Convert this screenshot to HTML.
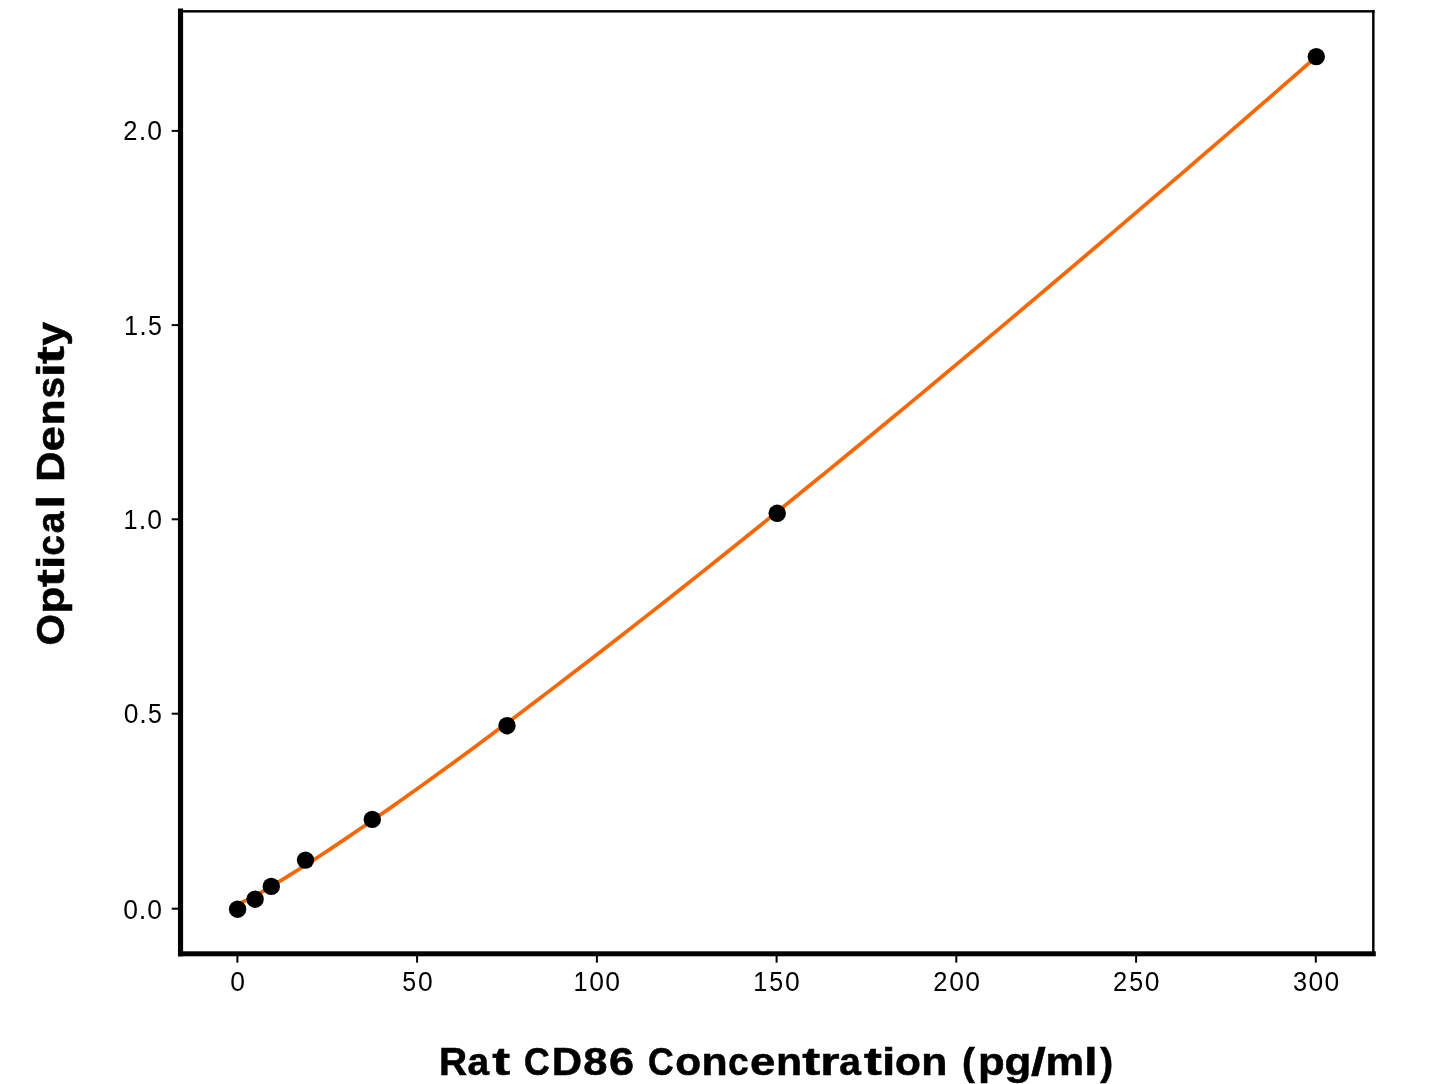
<!DOCTYPE html><html><head><meta charset="utf-8"><title>Rat CD86 standard curve</title><style>html,body{margin:0;padding:0;background:#fff;width:1445px;height:1084px;overflow:hidden}svg{display:block;will-change:transform}text{font-family:"Liberation Sans",sans-serif;fill:#000}</style></head><body>
<svg width="1445" height="1084" viewBox="0 0 1445 1084">
<rect width="1445" height="1084" fill="#fff"/>
<polyline points="237.60,904.29 246.15,900.38 254.69,895.85 263.24,891.03 271.79,886.03 280.34,880.89 288.88,875.62 297.43,870.26 305.98,864.82 314.53,859.31 323.07,853.72 331.62,848.07 340.17,842.37 348.72,836.61 357.26,830.79 365.81,824.93 374.36,819.03 382.91,813.08 391.45,807.10 400.00,801.07 418.70,787.77 437.40,774.31 456.10,760.71 474.80,746.97 493.50,733.11 512.20,719.14 530.90,705.06 549.60,690.88 568.30,676.60 587.00,662.24 605.70,647.78 624.40,633.25 643.10,618.64 661.80,603.95 680.50,589.19 699.20,574.36 717.90,559.47 736.60,544.51 755.30,529.49 774.00,514.41 792.70,499.27 811.40,484.08 830.10,468.83 848.80,453.53 867.50,438.18 886.20,422.78 904.90,407.33 923.60,391.82 942.30,376.27 961.00,360.67 979.70,345.02 998.40,329.34 1017.10,313.61 1035.80,297.84 1054.50,282.03 1073.20,266.18 1091.90,250.30 1110.60,234.37 1129.30,218.41 1148.00,202.41 1166.70,186.38 1185.40,170.31 1204.10,154.20 1222.80,138.06 1241.50,121.89 1260.20,105.69 1278.90,89.45 1297.60,73.18 1316.30,56.60" fill="none" stroke="#f86703" stroke-width="3.75" stroke-linejoin="round" stroke-linecap="butt"/>
<circle cx="237.6" cy="909.2" r="8.7" fill="#000"/>
<circle cx="255.1" cy="899.2" r="8.7" fill="#000"/>
<circle cx="271.3" cy="886.4" r="8.7" fill="#000"/>
<circle cx="305.5" cy="860.1" r="8.7" fill="#000"/>
<circle cx="372.3" cy="819.4" r="8.7" fill="#000"/>
<circle cx="507.0" cy="725.7" r="8.7" fill="#000"/>
<circle cx="777.2" cy="513.3" r="8.7" fill="#000"/>
<circle cx="1316.3" cy="56.6" r="8.7" fill="#000"/>
<rect x="177.95" y="8.5" width="5.15" height="947.8" fill="#000"/>
<rect x="178" y="951.3" width="1197.8" height="5" fill="#000"/>
<rect x="179.5" y="10.1" width="1195.1" height="2.45" fill="#000"/>
<rect x="1372.1" y="10.1" width="2.45" height="944.5" fill="#000"/>
<rect x="236.4" y="953.8" width="2" height="8.9" fill="#000"/>
<rect x="416.1" y="953.8" width="2" height="8.9" fill="#000"/>
<rect x="595.9" y="953.8" width="2" height="8.9" fill="#000"/>
<rect x="775.6" y="953.8" width="2" height="8.9" fill="#000"/>
<rect x="955.3" y="953.8" width="2" height="8.9" fill="#000"/>
<rect x="1135.1" y="953.8" width="2" height="8.9" fill="#000"/>
<rect x="1314.8" y="953.8" width="2" height="8.9" fill="#000"/>
<rect x="171.7" y="907.7" width="8.8" height="2" fill="#000"/>
<rect x="171.7" y="712.7" width="8.8" height="2" fill="#000"/>
<rect x="171.7" y="518.3" width="8.8" height="2" fill="#000"/>
<rect x="171.7" y="324.1" width="8.8" height="2" fill="#000"/>
<rect x="171.7" y="129.9" width="8.8" height="2" fill="#000"/>
<text transform="translate(229.73,991.00)" y="0" font-size="26.8"><tspan x="0.62" textLength="14.71" lengthAdjust="spacingAndGlyphs">0</tspan></text>
<text transform="translate(401.34,991.00)" y="0" font-size="26.8"><tspan x="0.94" textLength="13.88" lengthAdjust="spacingAndGlyphs">5</tspan><tspan x="16.58" textLength="14.71" lengthAdjust="spacingAndGlyphs">0</tspan></text>
<text transform="translate(572.68,991.00)" y="0" font-size="26.8"><tspan x="0.83" textLength="14.05" lengthAdjust="spacingAndGlyphs">1</tspan><tspan x="16.58" textLength="14.71" lengthAdjust="spacingAndGlyphs">0</tspan><tspan x="32.54" textLength="14.71" lengthAdjust="spacingAndGlyphs">0</tspan></text>
<text transform="translate(752.41,991.00)" y="0" font-size="26.8"><tspan x="0.83" textLength="14.05" lengthAdjust="spacingAndGlyphs">1</tspan><tspan x="16.90" textLength="13.88" lengthAdjust="spacingAndGlyphs">5</tspan><tspan x="32.54" textLength="14.71" lengthAdjust="spacingAndGlyphs">0</tspan></text>
<text transform="translate(932.61,991.00)" y="0" font-size="26.8"><tspan x="0.56" textLength="14.18" lengthAdjust="spacingAndGlyphs">2</tspan><tspan x="16.58" textLength="14.71" lengthAdjust="spacingAndGlyphs">0</tspan><tspan x="32.54" textLength="14.71" lengthAdjust="spacingAndGlyphs">0</tspan></text>
<text transform="translate(1112.34,991.00)" y="0" font-size="26.8"><tspan x="0.56" textLength="14.18" lengthAdjust="spacingAndGlyphs">2</tspan><tspan x="16.90" textLength="13.88" lengthAdjust="spacingAndGlyphs">5</tspan><tspan x="32.54" textLength="14.71" lengthAdjust="spacingAndGlyphs">0</tspan></text>
<text transform="translate(1292.04,991.00)" y="0" font-size="26.8"><tspan x="0.94" textLength="14.12" lengthAdjust="spacingAndGlyphs">3</tspan><tspan x="16.58" textLength="14.71" lengthAdjust="spacingAndGlyphs">0</tspan><tspan x="32.54" textLength="14.71" lengthAdjust="spacingAndGlyphs">0</tspan></text>
<text transform="translate(122.67,918.50)" y="0" font-size="26.8"><tspan x="0.62" textLength="14.71" lengthAdjust="spacingAndGlyphs">0</tspan><tspan x="16.17" textLength="7.54" lengthAdjust="spacingAndGlyphs">.</tspan><tspan x="24.56" textLength="14.71" lengthAdjust="spacingAndGlyphs">0</tspan></text>
<text transform="translate(123.20,723.00)" y="0" font-size="26.8"><tspan x="0.62" textLength="14.71" lengthAdjust="spacingAndGlyphs">0</tspan><tspan x="16.17" textLength="7.54" lengthAdjust="spacingAndGlyphs">.</tspan><tspan x="24.87" textLength="13.88" lengthAdjust="spacingAndGlyphs">5</tspan></text>
<text transform="translate(122.67,528.80)" y="0" font-size="26.8"><tspan x="0.83" textLength="14.05" lengthAdjust="spacingAndGlyphs">1</tspan><tspan x="16.17" textLength="7.54" lengthAdjust="spacingAndGlyphs">.</tspan><tspan x="24.56" textLength="14.71" lengthAdjust="spacingAndGlyphs">0</tspan></text>
<text transform="translate(123.20,334.60)" y="0" font-size="26.8"><tspan x="0.83" textLength="14.05" lengthAdjust="spacingAndGlyphs">1</tspan><tspan x="16.17" textLength="7.54" lengthAdjust="spacingAndGlyphs">.</tspan><tspan x="24.87" textLength="13.88" lengthAdjust="spacingAndGlyphs">5</tspan></text>
<text transform="translate(122.67,140.40)" y="0" font-size="26.8"><tspan x="0.56" textLength="14.18" lengthAdjust="spacingAndGlyphs">2</tspan><tspan x="16.17" textLength="7.54" lengthAdjust="spacingAndGlyphs">.</tspan><tspan x="24.56" textLength="14.71" lengthAdjust="spacingAndGlyphs">0</tspan></text>
<text transform="translate(438.20,1074.90)" y="0" font-size="39.4" font-weight="bold" stroke="#000" stroke-width="0.55"><tspan x="0.84" textLength="28.14" lengthAdjust="spacingAndGlyphs">R</tspan><tspan x="29.41" textLength="21.68" lengthAdjust="spacingAndGlyphs">a</tspan><tspan x="54.13" textLength="17.92" lengthAdjust="spacingAndGlyphs">t</tspan><tspan x="72.25" textLength="10.95" lengthAdjust="spacingAndGlyphs">&#160;</tspan><tspan x="85.74" textLength="25.74" lengthAdjust="spacingAndGlyphs">C</tspan><tspan x="113.55" textLength="30.35" lengthAdjust="spacingAndGlyphs">D</tspan><tspan x="145.01" textLength="24.25" lengthAdjust="spacingAndGlyphs">8</tspan><tspan x="170.92" textLength="25.08" lengthAdjust="spacingAndGlyphs">6</tspan><tspan x="196.39" textLength="10.95" lengthAdjust="spacingAndGlyphs">&#160;</tspan><tspan x="209.88" textLength="25.74" lengthAdjust="spacingAndGlyphs">C</tspan><tspan x="237.00" textLength="25.90" lengthAdjust="spacingAndGlyphs">o</tspan><tspan x="263.20" textLength="26.13" lengthAdjust="spacingAndGlyphs">n</tspan><tspan x="289.77" textLength="20.69" lengthAdjust="spacingAndGlyphs">c</tspan><tspan x="311.71" textLength="25.40" lengthAdjust="spacingAndGlyphs">e</tspan><tspan x="337.70" textLength="26.13" lengthAdjust="spacingAndGlyphs">n</tspan><tspan x="363.96" textLength="17.92" lengthAdjust="spacingAndGlyphs">t</tspan><tspan x="381.97" textLength="19.28" lengthAdjust="spacingAndGlyphs">r</tspan><tspan x="401.08" textLength="21.68" lengthAdjust="spacingAndGlyphs">a</tspan><tspan x="425.80" textLength="17.92" lengthAdjust="spacingAndGlyphs">t</tspan><tspan x="443.74" textLength="13.30" lengthAdjust="spacingAndGlyphs">i</tspan><tspan x="456.77" textLength="25.90" lengthAdjust="spacingAndGlyphs">o</tspan><tspan x="482.96" textLength="26.13" lengthAdjust="spacingAndGlyphs">n</tspan><tspan x="509.37" textLength="10.95" lengthAdjust="spacingAndGlyphs">&#160;</tspan><tspan x="523.75" textLength="12.90" lengthAdjust="spacingAndGlyphs">(</tspan><tspan x="539.90" textLength="26.73" lengthAdjust="spacingAndGlyphs">p</tspan><tspan x="566.41" textLength="26.79" lengthAdjust="spacingAndGlyphs">g</tspan><tspan x="592.90" textLength="14.76" lengthAdjust="spacingAndGlyphs">/</tspan><tspan x="607.40" textLength="38.62" lengthAdjust="spacingAndGlyphs">m</tspan><tspan x="646.11" textLength="13.30" lengthAdjust="spacingAndGlyphs">l</tspan><tspan x="662.15" textLength="12.90" lengthAdjust="spacingAndGlyphs">)</tspan></text>
<text transform="translate(64.00,645.70) rotate(-90)" y="0" font-size="39.4" font-weight="bold" stroke="#000" stroke-width="0.55"><tspan x="0.21" textLength="31.55" lengthAdjust="spacingAndGlyphs">O</tspan><tspan x="32.21" textLength="26.73" lengthAdjust="spacingAndGlyphs">p</tspan><tspan x="58.68" textLength="17.92" lengthAdjust="spacingAndGlyphs">t</tspan><tspan x="76.61" textLength="13.30" lengthAdjust="spacingAndGlyphs">i</tspan><tspan x="89.84" textLength="20.69" lengthAdjust="spacingAndGlyphs">c</tspan><tspan x="112.43" textLength="21.68" lengthAdjust="spacingAndGlyphs">a</tspan><tspan x="137.12" textLength="13.30" lengthAdjust="spacingAndGlyphs">l</tspan><tspan x="150.19" textLength="10.95" lengthAdjust="spacingAndGlyphs">&#160;</tspan><tspan x="163.91" textLength="30.35" lengthAdjust="spacingAndGlyphs">D</tspan><tspan x="194.29" textLength="25.40" lengthAdjust="spacingAndGlyphs">e</tspan><tspan x="220.28" textLength="26.13" lengthAdjust="spacingAndGlyphs">n</tspan><tspan x="247.28" textLength="21.60" lengthAdjust="spacingAndGlyphs">s</tspan><tspan x="268.87" textLength="13.30" lengthAdjust="spacingAndGlyphs">i</tspan><tspan x="281.78" textLength="17.92" lengthAdjust="spacingAndGlyphs">t</tspan><tspan x="300.03" textLength="23.92" lengthAdjust="spacingAndGlyphs">y</tspan></text>
</svg></body></html>
